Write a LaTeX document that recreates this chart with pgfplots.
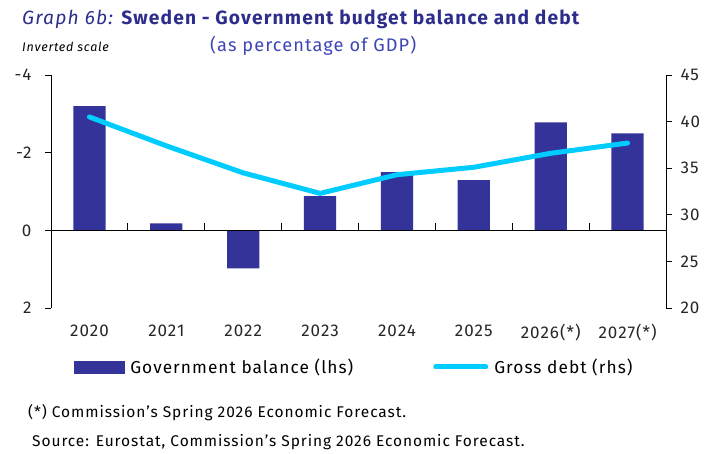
\documentclass[border=0pt]{standalone}
\usepackage{pgfplots}
\pgfplotsset{compat=1.18}
\usepackage{fontspec}
\setmainfont{Fira Sans}[LetterSpace=6]
\definecolor{barblue}{RGB}{51,51,153}
\definecolor{debtcyan}{RGB}{0,204,255}
\definecolor{titleblue}{RGB}{45,45,140}
\definecolor{subblue}{RGB}{60,70,180}
\begin{document}
\begin{tikzpicture}[x=1pt,y=1pt]
\path[use as bounding box] (0,0) rectangle (708,453);
\node[anchor=base west, inner sep=0] at (22,428) {\fontsize{19.2}{22}\selectfont\color{titleblue}{\itshape Graph 6b:} \bfseries Sweden - Government budget balance and debt};
\node[anchor=base west, inner sep=0] at (22,401) {\fontsize{12.5}{15}\selectfont\itshape Inverted scale};
\node[anchor=base west, inner sep=0] at (210,401) {\fontsize{18.2}{21}\selectfont\color{subblue}(as percentage of GDP)};
\node[anchor=base west, inner sep=0] at (28,36) {\fontsize{15.5}{18}\selectfont (*) Commission's Spring 2026 Economic Forecast.};
\node[anchor=base west, inner sep=0] at (32,7) {\fontsize{15.5}{18}\selectfont Source: Eurostat, Commission's Spring 2026 Economic Forecast.};

\begin{axis}[
  at={(51pt,145pt)}, anchor=south west, scale only axis,
  width=615pt, height=233pt,
  xmin=-0.5, xmax=7.5, ymin=-4, ymax=2, y dir=reverse,
  axis y line*=left, axis x line=none,
  ytick={-4,-2,0,2}, yticklabels={-4,-2,0,2},
  tick align=outside, major tick length=6pt,
  y axis line style={black, line width=0.8pt},
  ytick style={black, line width=0.8pt},
  yticklabel style={font=\fontsize{17}{20}\selectfont, color=black!85, xshift=-10pt},
  clip=false,
]
\addplot[ybar, bar width=0.42, fill=barblue, draw=none] coordinates {
  (0,-3.2) (1,-0.18) (2,0.98) (3,-0.88) (4,-1.5) (5,-1.29) (6,-2.78) (7,-2.5)
};
\draw[black, line width=0.8pt] (axis cs:-0.5,0) -- (axis cs:7.5,0);
\pgfplotsinvokeforeach{0.5,1.5,2.5,3.5,4.5,5.5,6.5}{
  \draw[black, line width=0.8pt] (axis cs:#1,0) -- (axis cs:#1,-0.18);
}
\end{axis}

\begin{axis}[
  at={(51pt,145pt)}, anchor=south west, scale only axis,
  width=615pt, height=233pt,
  xmin=-0.5, xmax=7.5, ymin=20, ymax=45,
  axis y line*=right, axis x line*=bottom,
  x axis line style={draw=none},
  xtick={0,1,2,3,4,5,6,7},
  xticklabels={2020,2021,2022,2023,2024,2025,2026(*),2027(*)},
  xtick style={draw=none},
  xticklabel style={font=\fontsize{17}{20}\selectfont, color=black!85, yshift=-7pt},
  ytick={20,25,30,35,40,45},
  tick align=outside, major tick length=6pt,
  y axis line style={black, line width=0.8pt},
  ytick style={black, line width=0.8pt},
  yticklabel style={font=\fontsize{17}{20}\selectfont, color=black!85, xshift=5pt},
  /pgf/number format/assume math mode=true,
  legend columns=2,
  legend style={draw=none, fill=none, at={(0.493,-0.253)}, anchor=center,
    font=\fontsize{17.3}{20}\selectfont, inner sep=0pt,
    /tikz/every odd column/.append style={column sep=4pt},
    /tikz/every even column/.append style={column sep=78pt}},
  clip=false,
]
\addlegendimage{legend image code/.code={\fill[barblue] (0pt,-6pt) rectangle (50pt,6pt);}}
\addlegendentry{Government balance (lhs)}
\addplot[debtcyan, line width=5pt, line cap=round, line join=round,
  legend image code/.code={\draw[debtcyan, line width=5pt, line cap=round] (2pt,0pt) -- (52pt,0pt);}]
  coordinates {
  (0,40.5) (1,37.4) (2,34.5) (3,32.3) (4,34.3) (5,35.1) (6,36.6) (7,37.7)
};
\addlegendentry{Gross debt (rhs)}
\end{axis}
\end{tikzpicture}
\end{document}
